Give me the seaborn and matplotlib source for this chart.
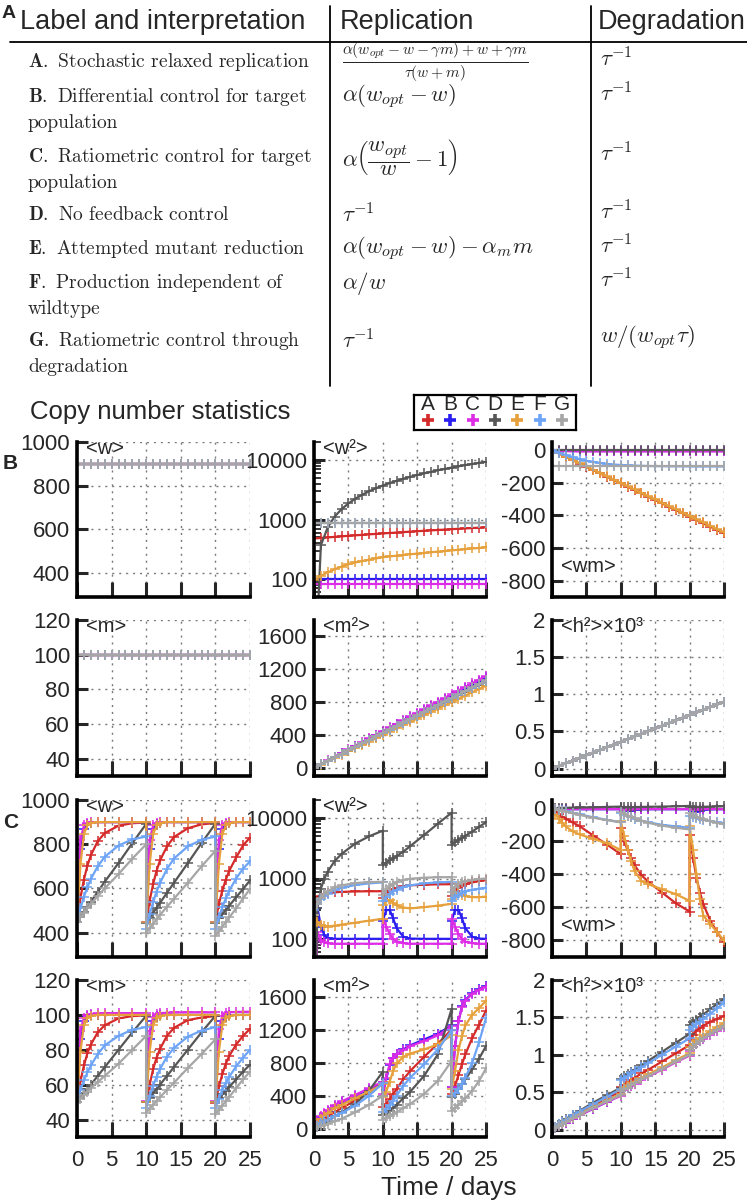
import matplotlib
matplotlib.use("Agg")
import matplotlib.pyplot as plt
import seaborn as sns
from matplotlib.lines import Line2D
from matplotlib.ticker import LogLocator, NullFormatter

W, H = 747, 1204

models = ["A", "B", "C", "D", "E", "F", "G"]
model_colors = ["#d42a2a", "#2a1df0", "#de2be6", "#565656", "#e6a03c", "#6ea4f5", "#a6a6a6"]

# ---- table A ----
row_labels = [
    ["A.", "Stochastic relaxed replication"],
    ["B.", "Differential control for target", "population"],
    ["C.", "Ratiometric control for target", "population"],
    ["D.", "No feedback control"],
    ["E.", "Attempted mutant reduction"],
    ["F.", "Production independent of", "wildtype"],
    ["G.", "Ratiometric control through", "degradation"],
]
replication = [
    r"$\frac{\alpha(w_{opt}-w-\gamma m)+w+\gamma m}{\tau(w+m)}$",
    r"$\alpha(w_{opt}-w)$",
    r"$\alpha\left(\dfrac{w_{opt}}{w}-1\right)$",
    r"$\tau^{-1}$",
    r"$\alpha(w_{opt}-w)-\alpha_m m$",
    r"$\alpha/w$",
    r"$\tau^{-1}$",
]
replication_size = [16, 16.5, 16.5, 16.5, 16.5, 16.5, 16.5]
degradation = [r"$\tau^{-1}$"] * 6 + [r"$w/(w_{opt}\tau)$"]
row_y = [62, 97, 157, 215, 249, 283, 341]

# ---- panels B: no division, one point per day ----
t_b = [0, 1, 2, 3, 4, 5, 6, 7, 8, 9, 10, 11, 12, 13, 14, 15, 16, 17, 18, 19, 20,
       21, 22, 23, 24, 25]

b_w_all = [900, 900, 900, 900, 900, 900, 900, 900, 900, 900, 900, 900, 900, 900, 900,
           900, 900, 900, 900, 900, 900, 900, 900, 900, 900, 900]
b_m_all = [100, 100, 100, 100, 100, 100, 100, 100, 100, 100, 100, 100, 100, 100, 100,
           100, 100, 100, 100, 100, 100, 100, 100, 100, 100, 100]
b_h2_all = [0, 0.036, 0.072, 0.108, 0.144, 0.18, 0.216, 0.252, 0.288, 0.324, 0.36,
            0.396, 0.432, 0.468, 0.504, 0.54, 0.576, 0.612, 0.648, 0.684, 0.72, 0.756,
            0.792, 0.828, 0.864, 0.9]

b_w2 = {
    "A": [480, 490, 500, 511, 521, 532, 542, 552, 563, 573, 584, 594, 604, 615, 625,
          636, 646, 656, 667, 677, 688, 698, 708, 719, 729, 740],
    "B": [100, 100, 100, 100, 100, 100, 100, 100, 100, 100, 100, 100, 100, 100, 100,
          100, 100, 100, 100, 100, 100, 100, 100, 100, 100, 100],
    "C": [83, 83, 83, 83, 83, 83, 83, 83, 83, 83, 83, 83, 83, 83, 83, 83, 83, 83, 83,
          83, 83, 83, 83, 83, 83, 83],
    "D": [1, 370, 740, 1120, 1490, 1860, 2230, 2600, 2980, 3350, 3720, 4090, 4460,
          4840, 5210, 5580, 5950, 6320, 6700, 7070, 7440, 7810, 8180, 8560, 8930, 9300],
    "E": [95, 113, 130, 146, 162, 178, 190, 201, 212, 222, 233, 240, 247, 254, 261, 268,
          275, 282, 289, 296, 303, 310, 318, 326, 333, 340],
    "F": [870, 870, 870, 870, 870, 870, 870, 870, 870, 870, 870, 870, 870, 870, 870,
          870, 870, 870, 870, 870, 870, 870, 870, 870, 870, 870],
    "G": [880, 880, 880, 880, 880, 880, 880, 880, 880, 880, 880, 880, 880, 880, 880,
          880, 880, 880, 880, 880, 880, 880, 880, 880, 880, 880],
}
b_wm = {
    "A": [0, -20, -41, -61, -82, -102, -122, -143, -163, -184, -204, -224, -245, -265,
          -286, -306, -326, -347, -367, -388, -408, -428, -449, -469, -490, -510],
    "B": [0, -3, -5, -5, -5, -5, -5, -5, -5, -5, -5, -5, -5, -5, -5, -5, -5, -5, -5, -5,
          -5, -5, -5, -5, -5, -5],
    "C": [0, -4, -6, -7, -8, -8, -8, -8, -8, -8, -8, -8, -8, -8, -8, -8, -8, -8, -8, -8,
          -8, -8, -8, -8, -8, -8],
    "D": [0, 0, 0, 0, 0, 0, 0, 0, 0, 0, 0, 0, 0, 0, 0, 0, 0, 0, 0, 0, 0, 0, 0, 0, 0, 0],
    "E": [0, -20, -40, -60, -80, -100, -120, -141, -161, -181, -201, -221, -241, -262,
          -282, -302, -322, -342, -362, -383, -403, -423, -443, -463, -484, -504],
    "F": [0, -15, -30, -42, -55, -65, -72, -79, -84, -88, -91, -93, -95, -96, -97, -98,
          -98, -99, -99, -99, -100, -100, -100, -100, -100, -100],
    "G": [-100, -100, -100, -100, -100, -100, -100, -100, -100, -100, -100, -100, -100,
          -100, -100, -100, -100, -100, -100, -100, -100, -100, -100, -100, -100, -100],
}
b_m2 = {
    "A": [0, 43, 86, 130, 173, 216, 259, 302, 346, 389, 432, 475, 518, 562, 605, 648,
          691, 734, 778, 821, 864, 907, 950, 994, 1037, 1080],
    "B": [0, 44, 88, 132, 176, 220, 264, 308, 352, 396, 440, 484, 528, 572, 616, 660,
          704, 748, 792, 836, 880, 924, 968, 1012, 1056, 1100],
    "C": [0, 45, 90, 134, 179, 224, 269, 314, 358, 403, 448, 493, 538, 582, 627, 672,
          717, 762, 806, 851, 896, 941, 986, 1030, 1075, 1120],
    "D": [0, 42, 84, 126, 168, 210, 252, 294, 336, 378, 420, 462, 504, 546, 588, 630,
          672, 714, 756, 798, 840, 882, 924, 966, 1008, 1050],
    "E": [0, 40, 80, 120, 160, 200, 240, 280, 320, 360, 400, 440, 480, 520, 560, 600,
          640, 680, 720, 760, 800, 840, 880, 920, 960, 1000],
    "F": [0, 42, 85, 127, 170, 212, 254, 297, 339, 382, 424, 466, 509, 551, 594, 636,
          678, 721, 763, 806, 848, 890, 933, 975, 1018, 1060],
    "G": [0, 43, 85, 128, 170, 213, 256, 298, 341, 383, 426, 469, 511, 554, 596, 639,
          682, 724, 767, 809, 852, 895, 937, 980, 1022, 1065],
}

# ---- panels C: cell division at day 10 and 20 (time 10 and 20 listed twice) ----
t_c = [0, 0.5, 1, 1.5, 2, 3, 4, 6, 8, 10,
       10, 10.5, 11, 11.5, 12, 13, 14, 16, 18, 20,
       20, 20.5, 21, 21.5, 22, 23, 24, 25]

c_w = {
    "A": [450, 558, 640, 703, 750, 814, 850, 884, 895, 898,
          449, 545, 620, 680, 727, 790, 832, 872, 890, 896,
          448, 530, 590, 640, 680, 740, 795, 830],
    "B": [450, 780, 870, 893, 898, 900, 900, 900, 900, 900,
          450, 780, 870, 893, 898, 900, 900, 900, 900, 900,
          450, 780, 870, 893, 898, 900, 900, 900],
    "C": [450, 820, 885, 898, 900, 900, 900, 900, 900, 900,
          450, 820, 885, 898, 900, 900, 900, 900, 900, 900,
          450, 820, 885, 898, 900, 900, 900, 900],
    "D": [450, 472, 495, 517, 540, 585, 630, 715, 805, 892,
          446, 468, 490, 513, 535, 580, 625, 714, 805, 893,
          446, 465, 484, 503, 522, 560, 598, 636],
    "E": [450, 710, 845, 885, 895, 900, 900, 900, 900, 900,
          450, 710, 845, 885, 895, 900, 900, 900, 900, 900,
          450, 710, 845, 885, 895, 900, 900, 900],
    "F": [450, 510, 562, 606, 643, 700, 743, 794, 822, 835,
          418, 483, 538, 586, 625, 688, 735, 790, 820, 835,
          418, 470, 515, 555, 590, 645, 690, 722],
    "G": [450, 470, 490, 510, 530, 565, 600, 665, 735, 800,
          400, 420, 440, 460, 480, 517, 553, 625, 700, 770,
          385, 406, 427, 448, 469, 510, 555, 598],
}
c_m = {
    "A": [50, 62, 71, 78, 83, 90, 94, 98, 99.3, 99.8,
          50, 60, 69, 75.5, 80.5, 88, 92.5, 97, 98.5, 99.3,
          49.6, 59, 66, 72, 76.5, 83, 88, 92],
    "B": [50, 86, 96.5, 99.2, 99.8, 100, 100, 100, 100, 100,
          50, 86, 96.5, 99.2, 99.8, 100, 100, 100, 100, 100,
          50, 86, 96.5, 99.2, 99.8, 100, 100, 100],
    "C": [50, 91, 98.5, 100, 100.5, 100.8, 101, 101, 101, 101,
          50.5, 91, 99, 100.5, 101, 101.2, 101.4, 101.5, 101.5, 101.5,
          50.8, 92, 99.5, 101, 101.5, 101.7, 101.8, 101.8],
    "D": [50, 52.5, 55, 57.5, 60, 65, 70, 80, 90, 99.5,
          50, 52.5, 55, 57.5, 60, 65, 70, 80, 90, 99.5,
          50, 52.2, 54.4, 56.6, 58.8, 63, 67.5, 71.5],
    "E": [50, 79, 94, 98.3, 99.4, 100, 100, 100, 100, 100,
          50, 79, 94, 98.3, 99.4, 100, 100, 100, 100, 100,
          50, 79, 94, 98.3, 99.4, 100, 100, 100],
    "F": [50, 57, 62.5, 67, 71, 77.5, 82.5, 88, 91.5, 93,
          46.5, 53.5, 59.5, 64.5, 69, 76, 81, 87.5, 91, 93,
          46.5, 52, 57, 61, 64.5, 70.5, 75.5, 80],
    "G": [50, 52, 54, 56, 58, 61.5, 65, 72, 80, 88,
          44, 46.2, 48.4, 50.6, 52.8, 57, 61, 69.5, 77.5, 86,
          43, 45.5, 48, 50.5, 53, 58, 63, 67.5],
}
c_w2 = {
    "A": [300, 430, 510, 550, 570, 590, 600, 610, 615, 615,
          480, 560, 620, 670, 700, 740, 770, 790, 800, 805,
          520, 620, 700, 760, 800, 860, 910, 940],
    "B": [1, 330, 160, 115, 103, 100, 100, 100, 100, 100,
          200, 300, 300, 220, 150, 108, 101, 100, 100, 100,
          200, 300, 300, 220, 150, 108, 101, 100],
    "C": [1, 130, 95, 87, 84, 83, 83, 83, 83, 83,
          215, 160, 120, 100, 90, 85, 83, 83, 83, 83,
          215, 160, 120, 100, 90, 85, 83, 83],
    "D": [1, 330, 680, 1000, 1300, 1950, 2550, 3800, 5000, 6200,
          1700, 1820, 2000, 2150, 2350, 2800, 3450, 5250, 8100, 12300,
          3650, 4000, 4350, 4700, 5100, 6000, 7200, 8500],
    "E": [250, 190, 170, 162, 160, 165, 172, 185, 200, 215,
          360, 420, 440, 400, 360, 330, 320, 335, 355, 380,
          450, 560, 570, 540, 510, 490, 490, 500],
    "F": [300, 380, 450, 510, 560, 640, 700, 780, 830, 860,
          420, 500, 560, 610, 650, 720, 770, 830, 860, 880,
          430, 490, 540, 580, 610, 650, 680, 700],
    "G": [250, 380, 480, 560, 620, 710, 770, 840, 870, 880,
          540, 660, 750, 820, 870, 940, 990, 1030, 1050, 1050,
          600, 720, 800, 860, 900, 950, 980, 1000],
}
c_wm = {
    "A": [0, -18, -36, -50, -62, -86, -108, -165, -220, -278,
          -120, -200, -255, -300, -345, -405, -445, -510, -575, -625,
          -160, -300, -420, -510, -580, -680, -750, -810],
    "B": [0, -3, -5, -6, -6, -6, -6, -6, -6, -6,
          -6, -15, -18, -14, -10, -7, -6, -6, -6, -6,
          -6, -18, -22, -16, -11, -7, -6, -6],
    "C": [0, -4, -5, -5, -5, -5, -5, -5, -5, -5,
          -5, -12, -10, -7, -6, -5, -5, -5, -5, -5,
          -5, -12, -10, -7, -6, -5, -5, -5],
    "D": [0, 1, 2, 2, 3, 4, 5, 6, 8, 10,
          5, 5, 6, 6, 7, 8, 9, 10, 12, 14,
          7, 7, 8, 8, 9, 10, 11, 12],
    "E": [0, -35, -65, -90, -110, -140, -158, -185, -212, -252,
          -80, -170, -250, -320, -380, -440, -460, -490, -520, -560,
          -110, -250, -400, -550, -650, -700, -750, -800],
    "F": [0, -4, -8, -13, -18, -28, -36, -55, -70, -85,
          -30, -40, -48, -55, -62, -75, -85, -100, -110, -118,
          -45, -52, -58, -64, -70, -78, -85, -90],
    "G": [0, -5, -10, -15, -20, -30, -40, -57, -72, -85,
          -25, -35, -45, -53, -60, -75, -88, -105, -118, -128,
          -30, -42, -52, -60, -67, -78, -88, -97],
}
c_m2 = {
    "A": [0, 50, 90, 120, 150, 200, 250, 340, 440, 550,
          260, 300, 360, 420, 480, 600, 700, 870, 1030, 1200,
          420, 520, 650, 780, 900, 1100, 1260, 1430],
    "B": [0, 85, 140, 180, 220, 280, 320, 400, 480, 560,
          400, 600, 770, 860, 900, 960, 1010, 1080, 1150, 1250,
          500, 1000, 1300, 1480, 1560, 1640, 1690, 1730],
    "C": [0, 90, 150, 190, 230, 290, 330, 410, 490, 570,
          420, 620, 780, 860, 900, 950, 1000, 1060, 1130, 1240,
          500, 1000, 1300, 1470, 1550, 1630, 1680, 1720],
    "D": [0, 20, 45, 70, 95, 150, 200, 300, 460, 690,
          170, 190, 220, 250, 290, 370, 450, 640, 900, 1450,
          380, 420, 480, 540, 600, 720, 850, 1000],
    "E": [0, 70, 120, 160, 190, 250, 290, 370, 450, 540,
          380, 450, 570, 700, 790, 870, 910, 960, 1020, 1130,
          480, 700, 950, 1120, 1250, 1380, 1460, 1550],
    "F": [0, 35, 65, 90, 110, 150, 190, 280, 400, 550,
          200, 240, 290, 340, 400, 520, 620, 780, 960, 1190,
          400, 430, 480, 540, 620, 800, 1050, 1340],
    "G": [0, 15, 30, 45, 60, 90, 120, 200, 290, 400,
          110, 130, 150, 175, 200, 250, 300, 420, 580, 820,
          220, 250, 290, 330, 370, 460, 580, 730],
}
c_h2 = {
    "A": [0, 0.03, 0.06, 0.09, 0.12, 0.17, 0.22, 0.32, 0.42, 0.51,
          0.57, 0.60, 0.63, 0.66, 0.69, 0.75, 0.80, 0.91, 1.02, 1.13,
          1.20, 1.27, 1.32, 1.36, 1.39, 1.44, 1.48, 1.52],
    "B": [0, 0.02, 0.05, 0.07, 0.09, 0.14, 0.19, 0.28, 0.37, 0.46,
          0.52, 0.54, 0.57, 0.59, 0.62, 0.67, 0.72, 0.81, 0.91, 1.0,
          1.07, 1.11, 1.15, 1.19, 1.22, 1.28, 1.33, 1.38],
    "C": [0, 0.02, 0.05, 0.07, 0.09, 0.14, 0.19, 0.28, 0.37, 0.45,
          0.51, 0.53, 0.56, 0.58, 0.61, 0.66, 0.71, 0.80, 0.90, 0.99,
          1.05, 1.10, 1.14, 1.18, 1.21, 1.27, 1.32, 1.37],
    "D": [0, 0.04, 0.08, 0.11, 0.14, 0.20, 0.25, 0.36, 0.46, 0.56,
          0.68, 0.71, 0.74, 0.77, 0.80, 0.86, 0.92, 1.04, 1.16, 1.28,
          1.40, 1.44, 1.47, 1.51, 1.54, 1.61, 1.68, 1.75],
    "E": [0, 0.03, 0.06, 0.09, 0.11, 0.16, 0.21, 0.30, 0.39, 0.48,
          0.54, 0.57, 0.59, 0.62, 0.64, 0.69, 0.74, 0.83, 0.93, 1.02,
          1.10, 1.15, 1.19, 1.23, 1.26, 1.32, 1.37, 1.43],
    "F": [0, 0.04, 0.07, 0.10, 0.13, 0.19, 0.24, 0.34, 0.44, 0.54,
          0.66, 0.69, 0.72, 0.75, 0.78, 0.83, 0.89, 1.00, 1.11, 1.22,
          1.33, 1.37, 1.41, 1.44, 1.48, 1.55, 1.62, 1.70],
    "G": [0, 0.02, 0.05, 0.07, 0.10, 0.15, 0.20, 0.29, 0.38, 0.46,
          0.51, 0.54, 0.56, 0.59, 0.62, 0.67, 0.72, 0.81, 0.91, 1.0,
          1.06, 1.11, 1.15, 1.19, 1.22, 1.28, 1.33, 1.38],
}

time_ticks = [0, 5, 10, 15, 20, 25]
w_ticks, w_labels = [400, 600, 800, 1000], ["400", "600", "800", "1000"]
w2_ticks, w2_labels = [100, 1000, 10000], ["100", "1000", "10000"]
wm_ticks, wm_labels = [-800, -600, -400, -200, 0], ["-800", "-600", "-400", "-200", "0"]
m_ticks, m_labels = [40, 60, 80, 100, 120], ["40", "60", "80", "100", "120"]
m2_ticks, m2_labels = [0, 400, 800, 1200, 1600], ["0", "400", "800", "1200", "1600"]
h2_ticks, h2_labels = [0, 0.5, 1, 1.5, 2], ["0", "0.5", "1", "1.5", "2"]

sns.set_theme(style="white")
plt.rcParams["font.family"] = ["Liberation Sans", "DejaVu Sans"]
plt.rcParams["mathtext.fontset"] = "cm"
plt.rcParams["axes.unicode_minus"] = False

fig = plt.figure(figsize=(W / 100, H / 100), dpi=100)


def px_box(left, top, width, height):
    return [left / W, 1 - (top + height) / H, width / W, height / H]


def fig_text(x, y, s, **kw):
    fig.text(x / W, 1 - y / H, s, **kw)


def fig_line(x0, y0, x1, y1):
    fig.add_artist(Line2D([x0 / W, x1 / W], [1 - y0 / H, 1 - y1 / H],
                          transform=fig.transFigure, color="black", lw=1.3))


# ---- table ----
fig_text(2, 14, "A", fontsize=14, fontweight="bold", va="center")
fig_text(20, 22, "Label and interpretation", fontsize=19.5, va="center")
fig_text(340, 22, "Replication", fontsize=19.5, va="center")
fig_text(598, 22, "Degradation", fontsize=19.5, va="center")
fig_line(10, 42, 747, 42)
fig_line(330, 6, 330, 386)
fig_line(591, 6, 591, 386)

for lines, rep, rsize, deg, y in zip(row_labels, replication, replication_size,
                                     degradation, row_y):
    fig_text(28, y, r"$\mathbf{" + lines[0] + "}$ " + lines[1],
             fontsize=14, family="cmr10", va="center")
    if len(lines) > 2:
        fig_text(28, y + 26, lines[2], fontsize=14, family="cmr10", va="center")
    fig_text(342, y, rep, fontsize=rsize, va="center")
    fig_text(600, y - 3, deg, fontsize=16.5, va="center")

# ---- charts ----
fig_text(30, 412, "Copy number statistics", fontsize=18.5, va="center")
fig_text(3, 463, "B", fontsize=15, fontweight="bold", va="center")
fig_text(3, 822, "C", fontsize=15, fontweight="bold", va="center")
fig_text(449, 1188, "Time / days", fontsize=19, ha="center", va="center")

# legend box
lax = fig.add_axes(px_box(414, 395, 162, 35))
for i, (m, c) in enumerate(zip(models, model_colors)):
    sns.lineplot(x=[i], y=[0.3], ax=lax, color=c, marker="+", ms=9, mec=c, mew=2.6,
                 estimator=None)
    lax.text(i, 0.72, m, ha="center", va="center", fontsize=15)
lax.set_xlim(-0.62, 6.62)
lax.set_ylim(0, 1)
lax.set_xticks([])
lax.set_yticks([])
for s in lax.spines.values():
    s.set_visible(True)
    s.set_linewidth(1.6)
    s.set_color("black")

row_tops = [442, 620, 800, 980]
row_heights = [155, 156, 157, 157]
col_lefts = [77, 314, 552]
col_widths = [173, 172, 172]


def same_for_all(values):
    return {m: values for m in models}


panels = [
    (0, 0, t_b, same_for_all(b_w_all), "<w>", (290, 1000), w_ticks, w_labels, False),
    (0, 1, t_b, b_w2, "<w²>", (50, 20000), w2_ticks, w2_labels, True),
    (0, 2, t_b, b_wm, "<wm>", (-900, 50), wm_ticks, wm_labels, False),
    (1, 0, t_b, same_for_all(b_m_all), "<m>", (30, 120), m_ticks, m_labels, False),
    (1, 1, t_b, b_m2, "<m²>", (-100, 1800), m2_ticks, m2_labels, False),
    (1, 2, t_b, same_for_all(b_h2_all), "<h²>×10³", (-0.1, 2.0), h2_ticks, h2_labels, False),
    (2, 0, t_c, c_w, "<w>", (290, 1000), w_ticks, w_labels, False),
    (2, 1, t_c, c_w2, "<w²>", (50, 20000), w2_ticks, w2_labels, True),
    (2, 2, t_c, c_wm, "<wm>", (-900, 50), wm_ticks, wm_labels, False),
    (3, 0, t_c, c_m, "<m>", (30, 120), m_ticks, m_labels, False),
    (3, 1, t_c, c_m2, "<m²>", (-100, 1800), m2_ticks, m2_labels, False),
    (3, 2, t_c, c_h2, "<h²>×10³", (-0.1, 2.0), h2_ticks, h2_labels, False),
]

for row, col, t, data, label, ylim, yticks, ylabels, log in panels:
    ax = fig.add_axes(px_box(col_lefts[col], row_tops[row], col_widths[col],
                             row_heights[row]))
    if log:
        ax.set_yscale("log")
    for m, c in zip(models, model_colors):
        sns.lineplot(x=t, y=data[m], ax=ax, color=c, lw=1.6, marker="+", ms=7,
                     mec=c, mew=1.1, estimator=None, sort=False)
    ax.set_xlim(0, 25)
    ax.set_ylim(*ylim)
    ax.set_xticks(time_ticks)
    ax.set_yticks(yticks, labels=ylabels)
    if row < 3:
        ax.set_xticklabels([])
    if log:
        ax.yaxis.set_minor_locator(LogLocator(base=10, subs=range(2, 10)))
        ax.yaxis.set_minor_formatter(NullFormatter())
        ax.tick_params(axis="y", which="minor", direction="in", length=5, width=1.3,
                       left=True)
    ax.set_axisbelow(True)
    ax.grid(True, which="major", color="#7a7a7a", ls=(0, (1.5, 3.5)), lw=1)
    for s in ["top", "right"]:
        ax.spines[s].set_visible(False)
    for s in ["left", "bottom"]:
        ax.spines[s].set_linewidth(2.6)
        ax.spines[s].set_color("black")
    ax.tick_params(axis="y", which="major", direction="in", length=8, width=2.2,
                   labelsize=16, pad=5, left=True)
    ax.tick_params(axis="x", which="major", direction="in", length=11, width=2.2,
                   labelsize=16, pad=9, bottom=True)
    ax.set_xlabel("")
    ax.set_ylabel("")
    if label == "<wm>":
        ax.text(0.05, 0.2, label, transform=ax.transAxes, va="center", fontsize=14.5)
    else:
        ax.text(0.05, 1.02, label, transform=ax.transAxes, va="top", fontsize=14.5)

fig.savefig("out.png", dpi=100)
